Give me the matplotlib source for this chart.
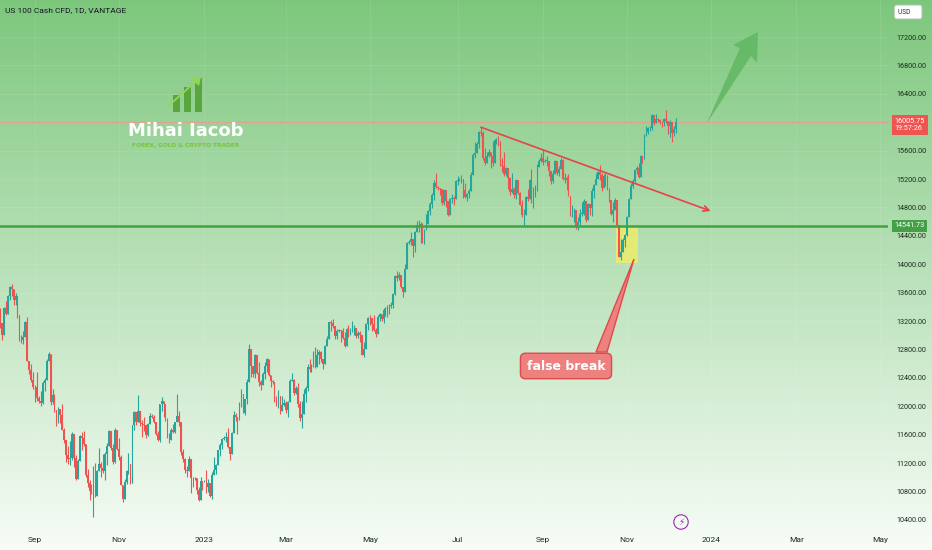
import matplotlib
matplotlib.use("Agg")
import matplotlib.pyplot as plt
import matplotlib.transforms as mtransforms
from matplotlib.patches import Rectangle, Polygon, FancyArrowPatch
import numpy as np
import pandas as pd

plt.rcParams["font.family"] = ["Roboto", "DejaVu Sans"]

# daily candles (every weekday, CFD), first bar 2022-08-08
first_open = 13207
closes = [
    # Aug 2022
    13170, 13011, 13384, 13302, 13560, 13680, 13652, 13494, 13551, 13286, 12941, 12932, 12977, 13183, 12642, 12506, 12372, 12272,
    # Sep 2022
    12270, 12113, 12080, 12048, 12322, 12364, 12637, 12741, 12057, 12165, 11949, 11863, 11965, 11876, 11673, 11528, 11311, 11255, 11271, 11607, 11271, 10971,
    # Oct 2022
    11229, 11576, 11550, 11466, 11039, 10924, 10805, 10792, 11107, 10735, 11089, 11188, 11134, 11094, 11326, 11448, 11658, 11417, 11222, 11668, 11405,
    # Nov 2022
    11287, 10890, 10699, 10935, 11095, 11189, 10920, 11734, 11917, 11780, 11935, 11772, 11754, 11734, 11591, 11753, 11870, 11850, 11786, 11609, 11531, 12030,
    # Dec 2022
    12070, 12037, 11825, 11575, 11530, 11668, 11635, 11779, 11870, 11776, 11364, 11257, 11099, 11094, 11260, 10986, 10985, 10990, 10822, 10679, 10955, 10940,
    # Jan 2023
    10950, 10862, 10915, 10742, 11040, 11108, 11175, 11384, 11459, 11541, 11560, 11572, 11432, 11326, 11630, 11884, 11856, 11814, 12036, 12167, 11912, 12102,
    # Feb 2023
    12346, 12803, 12574, 12458, 12718, 12471, 12349, 12304, 12459, 12571, 12669, 12442, 12359, 12340, 12063, 12060, 12144, 11937, 12013, 12043,
    # Mar 2023
    11951, 12057, 12362, 12369, 12193, 12259, 12029, 11831, 11890, 12167, 12252, 12560, 12520, 12558, 12743, 12558, 12722, 12767, 12664, 12598, 12847, 12951, 13181,
    # Apr 2023
    13173, 13130, 12996, 13063, 13070, 13056, 12960, 12846, 13087, 13080, 13092, 13101, 13102, 12993, 13039, 12998, 12727, 12803, 13160, 13246,
    # May 2023
    13240, 13160, 13081, 13025, 13258, 13300, 13228, 13360, 13389, 13340, 13408, 13421, 13578, 13834, 13810, 13848, 13675, 13606, 13938, 14298, 14320, 14353, 14254,
    # Jun 2023
    14460, 14547, 14546, 14567, 14311, 14486, 14571, 14748, 14855, 14973, 15140, 15084, 15070, 15059, 14861, 15043, 14891, 14687, 14925, 14940, 14915, 15179,
    # Jul 2023
    15179, 15190, 15201, 15039, 14944, 14984, 15034, 15262, 15533, 15565, 15690, 15863, 15842, 15490, 15432, 15520, 15580, 15520, 15420, 15750, 15755,
    # Aug 2023
    15735, 15399, 15385, 15274, 15350, 15209, 15024, 15060, 14971, 15188, 15005, 14837, 14687, 14695, 14942, 14926, 15187, 14861, 14942, 15038, 15365, 15451, 15501,
    # Sep 2023
    15447, 15460, 15461, 15318, 15179, 15267, 15454, 15289, 15346, 15470, 15203, 15216, 15186, 14965, 14694, 14701, 14768, 14546, 14594, 14715, 14715,
    # Oct 2023
    14887, 14625, 14843, 14792, 15027, 15116, 15199, 15296, 15258, 15073, 15247, 15201, 15054, 14908, 14712, 14770, 14900, 14549, 14109, 14180, 14336, 14409,
    # Nov 2023
    14666, 14917, 15099, 15179, 15323, 15360, 15233, 15530, 15480, 15812, 15862, 15915, 15919, 16096, 15994, 16043, 16030, 16000, 15998, 16045, 16019, 15947,
    # Dec 2023
    16000, 15850, 15910, 16005,
]
highs = [
    13390, 13130, 13400, 13490, 13565, 13690, 13720, 13600, 13600, 13480, 13150, 13010, 13060, 13200, 13260, 12620, 12600, 12480,
    12300, 12490, 12140, 12220, 12350, 12400, 12660, 12770, 12620, 12240, 12180, 11900, 11990, 11950, 12030, 11700, 11480, 11440, 11510, 11640, 11450, 11320,
    11260, 11600, 11640, 11650, 11300, 11120, 10970, 10900, 11160, 11200, 11100, 11420, 11210, 11330, 11360, 11480, 11670, 11600, 11470, 11690, 11590,
    11560, 11320, 10830, 10980, 11110, 11340, 11120, 11740, 11940, 11890, 12160, 11840, 11810, 11850, 11700, 11760, 11900, 11890, 11880, 11770, 11650, 12040,
    12130, 12050, 11980, 11830, 11620, 11690, 11750, 11780, 12170, 11940, 11690, 11400, 11270, 11160, 11300, 11190, 11000, 11010, 10960, 10860, 11000, 10950,
    10970, 11100, 10980, 10860, 11070, 11280, 11190, 11390, 11480, 11560, 11580, 11640, 11700, 11410, 11640, 11930, 11900, 11830, 12060, 12240, 12110, 12110,
    12380, 12880, 12720, 12560, 12740, 12650, 12630, 12370, 12480, 12620, 12680, 12640, 12410, 12370, 12260, 12150, 12230, 12000, 12140, 12100,
    12070, 12080, 12380, 12470, 12380, 12290, 12330, 12070, 12080, 12240, 12290, 12590, 12660, 12590, 12780, 12830, 12810, 12790, 12780, 12650, 12860, 12990, 13190,
    13210, 13230, 13100, 13090, 13090, 13060, 13100, 13040, 13100, 13150, 13110, 13200, 13140, 13070, 13060, 13060, 12950, 12900, 13170, 13260,
    13290, 13240, 13290, 13100, 13280, 13310, 13270, 13380, 13400, 13420, 13440, 13470, 13590, 13850, 13900, 13890, 13810, 13640, 14010, 14310, 14340, 14450, 14330,
    14470, 14610, 14630, 14600, 14580, 14490, 14710, 14760, 14870, 15000, 15180, 15280, 15100, 15060, 15020, 15060, 14960, 14860, 14940, 14990, 14960, 15190,
    15240, 15210, 15260, 15120, 15150, 15000, 15060, 15300, 15560, 15720, 15720, 15880, 15930, 15870, 15640, 15580, 15630, 15580, 15730, 15770, 15780,
    15800, 15650, 15490, 15580, 15370, 15290, 15230, 15280, 15090, 15200, 15170, 15020, 14900, 14780, 14960, 15060, 15200, 15340, 15090, 15110, 15410, 15480, 15560,
    15620, 15480, 15520, 15450, 15260, 15330, 15470, 15420, 15380, 15500, 15480, 15280, 15240, 15270, 14860, 14830, 14790, 14720, 14660, 14780, 14870,
    14920, 14860, 14860, 14850, 15080, 15130, 15290, 15310, 15400, 15280, 15270, 15280, 15260, 15070, 14910, 14870, 14940, 14860, 14430, 14350, 14370, 14430,
    14680, 14930, 15150, 15200, 15340, 15390, 15430, 15540, 15510, 15840, 15950, 15930, 15950, 16110, 16050, 16110, 16060, 16040, 16020, 16060, 16170, 16010,
    16030, 15930, 15950, 16060,
]
lows = [
    13100, 12940, 13170, 13280, 13330, 13500, 13550, 13420, 13430, 13250, 12920, 12890, 12880, 12970, 12640, 12450, 12340, 12240,
    12060, 12080, 12050, 12000, 12030, 12210, 12440, 12640, 12020, 12040, 11920, 11720, 11770, 11770, 11660, 11480, 11210, 11190, 11180, 11250, 11140, 10960,
    10990, 11390, 11380, 11440, 11000, 10860, 10680, 10770, 10440, 10720, 10880, 11100, 11000, 11060, 10960, 11180, 11440, 11390, 11190, 11200, 11380,
    11250, 10890, 10660, 10740, 10900, 11050, 10910, 11160, 11660, 11740, 11830, 11720, 11570, 11650, 11560, 11580, 11760, 11830, 11760, 11590, 11510, 11500,
    11930, 11850, 11800, 11550, 11490, 11550, 11630, 11620, 11820, 11730, 11320, 11210, 11060, 11000, 11100, 10780, 10870, 10970, 10770, 10670, 10720, 10820,
    10930, 10780, 10800, 10720, 10700, 11090, 11050, 11220, 11300, 11400, 11530, 11500, 11420, 11250, 11350, 11640, 11790, 11610, 11870, 11990, 11900, 11880,
    12030, 12520, 12420, 12410, 12400, 12460, 12290, 12230, 12320, 12390, 12490, 12430, 12270, 12320, 12060, 12000, 11970, 11890, 11990, 12010,
    11900, 11850, 12120, 12360, 12160, 12170, 11990, 11790, 11700, 12060, 12060, 12210, 12480, 12480, 12620, 12540, 12560, 12600, 12620, 12520, 12700, 12850, 12990,
    13060, 13100, 12950, 12950, 13050, 12910, 12950, 12830, 12900, 12980, 13010, 13050, 13000, 12960, 12960, 12900, 12720, 12700, 12900, 13080,
    13150, 13060, 13060, 12980, 13080, 13200, 13200, 13180, 13270, 13260, 13300, 13390, 13390, 13570, 13760, 13780, 13660, 13540, 13790, 13930, 14290, 14270, 14100,
    14180, 14450, 14450, 14300, 14300, 14280, 14540, 14580, 14700, 14790, 14900, 15070, 15040, 14970, 14840, 14830, 14810, 14680, 14700, 14860, 14840, 15010,
    15120, 15170, 15140, 14930, 14930, 14890, 14940, 15170, 15340, 15500, 15560, 15640, 15810, 15470, 15400, 15440, 15510, 15360, 15380, 15500, 15690,
    15660, 15380, 15300, 15240, 15250, 15060, 14980, 15000, 14930, 14920, 14990, 14830, 14670, 14560, 14700, 14890, 14980, 14860, 14790, 14970, 15060, 15370, 15440,
    15400, 15440, 15390, 15250, 15130, 15150, 15330, 15260, 15250, 15360, 15190, 15150, 15050, 14960, 14680, 14660, 14600, 14500, 14480, 14560, 14680,
    14700, 14590, 14620, 14700, 14680, 14930, 15110, 15200, 15190, 15030, 15090, 15100, 15040, 14880, 14700, 14600, 14780, 14530, 14100, 14060, 14170, 14250,
    14400, 14700, 15000, 15080, 15160, 15270, 15220, 15240, 15420, 15710, 15820, 15830, 15870, 15890, 15960, 16000, 16010, 15980, 15930, 15950, 15990, 15830,
    15790, 15720, 15800, 15850,
]
assert len(closes) == len(highs) == len(lows), (len(closes), len(highs), len(lows))

support_level = 14541.73
last_price = 16005.75
price_ticks = list(range(10400, 17201, 400))
month_labels = ["Sep", "Nov", "2023", "Mar", "May", "Jul", "Sep", "Nov", "2024", "Mar", "May"]

# trendline (bar index, price) and false-break zone
trend_start = (247, 15930)
trend_end = (365, 14750)
zone_x = (316.4, 327.7)
zone_y = (14020, support_level)

W, H = 932, 550
fig = plt.figure(figsize=(W / 100, H / 100), dpi=100)


def fpx(x, y):
    return (x / W, 1 - y / H)


# green -> white gradient background
bg = fig.add_axes([0, 0, 1, 1], zorder=-10)
top = np.array([0.49, 0.78, 0.49])
bot = np.array([0.97, 0.99, 0.97])
t = np.linspace(0, 1, 256)[:, None]
grad = (top * (1 - t) + bot * t)[:, None, :]
bg.imshow(grad, aspect="auto", extent=[0, 1, 0, 1], origin="upper")
bg.axis("off")

ax = fig.add_axes([0, 20 / H, 888 / W, 530 / H])
ax.patch.set_alpha(0)

n = len(closes)
xs = np.arange(n)
opens = [first_open] + closes[:-1]
hi = np.maximum.reduce([np.array(highs), np.array(opens), np.array(closes)])
lo = np.minimum.reduce([np.array(lows), np.array(opens), np.array(closes)])
up_c, dn_c = "#26a69a", "#ef5350"
cols = [up_c if c >= o else dn_c for o, c in zip(opens, closes)]
body_lo = np.minimum(opens, closes)
body_h = np.maximum(np.abs(np.array(closes) - np.array(opens)), 8)

ax.vlines(xs, lo, hi, colors=cols, lw=0.8, zorder=3)
ax.bar(xs, body_h, bottom=body_lo, width=0.85, color=cols, lw=0, zorder=4)

# month ticks on a weekday axis
all_days = pd.bdate_range("2022-08-08", "2024-05-31")
month_starts = pd.date_range("2022-09-01", "2024-05-01", freq="2MS")
tick_pos = all_days.searchsorted(month_starts)

for p in price_ticks:
    ax.axhline(p, color="white", alpha=0.1, lw=0.6, zorder=1)
for p in tick_pos:
    ax.axvline(p, color="white", alpha=0.1, lw=0.6, zorder=1)

ax.axhline(last_price, color="#e3a28f", lw=0.8, zorder=2)
ax.axhline(support_level, color="#3fa63f", lw=1.8, zorder=5)

ax.add_patch(Rectangle((zone_x[0], zone_y[0]), zone_x[1] - zone_x[0], zone_y[1] - zone_y[0],
                       fc="#f2ec66", alpha=0.8, ec="none", zorder=2))
ax.annotate("", xy=trend_end, xytext=trend_start,
            arrowprops=dict(arrowstyle="->", color="#e8424a", lw=1.2, shrinkA=0, shrinkB=0), zorder=6)

ax.set_xlim(0.02, 456.1)
ax.set_ylim(10259, 17721)
ax.yaxis.tick_right()
ax.set_yticks(price_ticks)
# 16000 sits under the last-price tag
ax.set_yticklabels(["" if p == 16000 else f"{p:.2f}" for p in price_ticks], fontsize=5.2, color="#1e2a1e")
ax.set_xticks(tick_pos)
ax.set_xticklabels(month_labels, fontsize=6, color="#1e2a1e")
ax.tick_params(axis="y", length=0, pad=6)
ax.tick_params(axis="x", length=0, pad=5)
for s in ax.spines.values():
    s.set_visible(False)

# price tags on the right scale
tr = mtransforms.blended_transform_factory(ax.transAxes, ax.transData)
ax.text(1.0075, last_price - 45, "16005.75\n19:57:26", transform=tr, ha="left", va="center",
        fontsize=5.2, color="white", linespacing=1.15, clip_on=False, zorder=20,
        bbox=dict(boxstyle="square,pad=0.35", fc="#f05350", ec="none"))
ax.text(1.0075, support_level, "14541.73", transform=tr, ha="left", va="center",
        fontsize=5.2, color="white", clip_on=False, zorder=20,
        bbox=dict(boxstyle="square,pad=0.35", fc="#43a047", ec="none"))
fig.text(*fpx(898, 12), "USD     ", ha="left", va="center", fontsize=4.8, color="#333333",
         bbox=dict(boxstyle="round,pad=0.5,rounding_size=0.3", fc="white", ec="#cfcfcf", lw=0.6))

fig.text(*fpx(5, 10), "US 100 Cash CFD, 1D, VANTAGE", ha="left", va="center", fontsize=6, color="#131722")

# logo
for x0, y0 in [(173, 95), (184, 87), (195, 78)]:
    fig.add_artist(Rectangle(fpx(x0, 112), 7 / W, (112 - y0) / H, transform=fig.transFigure,
                             fc="#5aa63e", ec="none"))
fig.add_artist(FancyArrowPatch(fpx(166, 108), fpx(203, 75), transform=fig.transFigure,
                               arrowstyle="-|>,head_length=4,head_width=3", color="#93d657", lw=1.3))
fig.text(*fpx(186, 131), "Mihai Iacob", ha="center", va="center", fontsize=13, weight="bold",
         color="white", family="DejaVu Sans")
fig.text(*fpx(186, 146), "FOREX, GOLD & CRYPTO TRADER", ha="center", va="center", fontsize=4.2,
         weight="bold", color="#7cc243", family="DejaVu Sans")

# big green arrow
arrow_pts = [fpx(707, 123), fpx(740, 48), fpx(733, 45), fpx(758, 32), fpx(757, 63), fpx(751, 56)]
fig.add_artist(Polygon(arrow_pts, closed=True, transform=fig.transFigure, fc="#64b966", ec="none", alpha=0.95))

# false break callout
fig.add_artist(Polygon([fpx(596, 352), fpx(607, 352), fpx(634, 259)], closed=True,
                       transform=fig.transFigure, fc="#ee8080", ec="#dd4b4b", lw=1, zorder=2))
fig.text(*fpx(566, 366), "false break", ha="center", va="center", fontsize=9, weight="bold",
         color="white", family="DejaVu Sans", zorder=3,
         bbox=dict(boxstyle="round,pad=0.5,rounding_size=0.4", fc="#ee8080", ec="#dd4b4b", lw=1))

fig.text(*fpx(681, 522), "\u26a1", ha="center", va="center", fontsize=6.5, color="#9c27b0",
         family="DejaVu Sans",
         bbox=dict(boxstyle="circle,pad=0.3", fc="#f4fbf4", ec="#9c27b0", lw=0.8))

fig.savefig("out.png", dpi=100)
